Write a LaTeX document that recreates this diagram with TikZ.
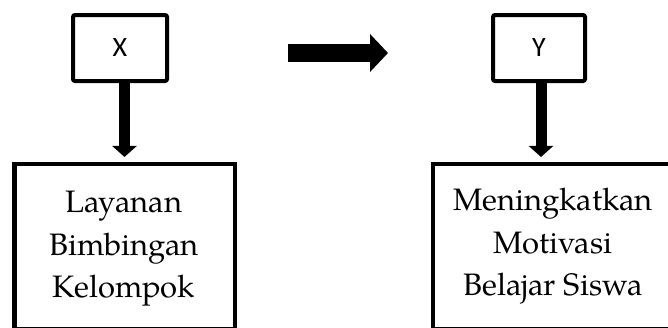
\documentclass[tikz,border=0pt]{standalone}
\usepackage{fontspec}
\setmainfont{texgyrepagella-regular.otf}
\newfontfamily\labelsans{Carlito}
\usetikzlibrary{arrows.meta}
\begin{document}
\begin{tikzpicture}[x=1pt,y=-1pt,
  smallbox/.style={draw,line width=4pt,rounded corners=2pt,minimum width=94pt,minimum height=66pt,inner sep=0pt,font=\labelsans\fontsize{28}{32}\selectfont},
  bigbox/.style={draw,line width=4.5pt,inner sep=0pt},
  boxtext/.style={anchor=base,inner sep=0pt,font=\fontsize{31}{36}\selectfont},
  downarrow/.style={line width=11pt,-{Triangle[width=24pt,length=11pt]},shorten >=5pt},
  rightarrow/.style={line width=18pt,-{Triangle[width=37pt,length=18pt]}}]
\useasboundingbox (0,0) rectangle (668,327);
\clip (0,0) rectangle (668,327);
% small boxes
\node[smallbox] (xbox) at (120,48) {X};
\node[smallbox,minimum width=92pt] (ybox) at (539,48) {Y};
% big boxes
\node[bigbox,minimum width=220.5pt,minimum height=164.75pt] (boxL) at (124.5,246.6) {};
\node[bigbox,minimum width=266.75pt,minimum height=164.75pt] (boxR) at (566.6,246.6) {};
% texts
\node[boxtext] (l1) at (124,212) {Layanan};
\node[boxtext] (l2) at (124,255) {Bimbingan};
\node[boxtext] (l3) at (124,297) {Kelompok};
\node[boxtext] (r1) at (553,210) {Meningkatkan};
\node[boxtext] (r2) at (553,253) {Motivasi};
\node[boxtext] (r3) at (553,295) {Belajar Siswa};
% arrows
\draw[downarrow] (xbox.south -| boxL.north) -- (boxL.north);
\draw[downarrow] ([xshift=2pt]ybox.south) -- ([xshift=2pt]ybox.south |- boxR.north);
\coordinate (hs) at (288,53);
\coordinate (he) at (388,53);
\draw[rightarrow] (hs) -- (he);
\end{tikzpicture}
\end{document}
